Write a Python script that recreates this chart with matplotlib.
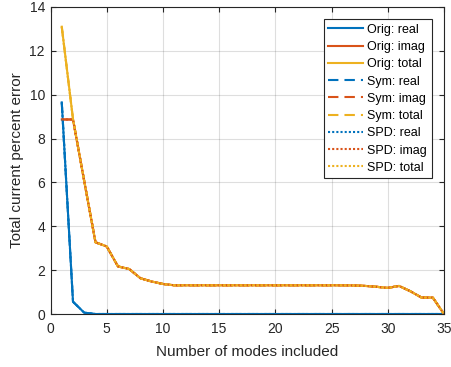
import matplotlib
matplotlib.use("Agg")
import matplotlib.pyplot as plt

plt.rcParams['font.family'] = ['Liberation Sans', 'DejaVu Sans']

modes = list(range(1, 36))
real_err = [9.65, 0.56, 0.06] + [0.0] * 32
imag_err = [8.87, 8.87, 6.06, 3.27, 3.08, 2.17, 2.05, 1.63, 1.48, 1.37,
            1.31, 1.31, 1.31, 1.31, 1.31, 1.31, 1.31, 1.31, 1.31, 1.31,
            1.31, 1.31, 1.31, 1.31, 1.31, 1.31, 1.30, 1.28, 1.24, 1.19,
            1.28, 1.04, 0.75, 0.75, 0.0]
total_err = [13.10, 8.89, 6.06, 3.27, 3.08, 2.17, 2.05, 1.63, 1.48, 1.37,
             1.31, 1.31, 1.31, 1.31, 1.31, 1.31, 1.31, 1.31, 1.31, 1.31,
             1.31, 1.31, 1.31, 1.31, 1.31, 1.31, 1.30, 1.28, 1.24, 1.19,
             1.28, 1.04, 0.75, 0.75, 0.0]

methods = ["Orig", "Sym", "SPD"]
components = ["real", "imag", "total"]
colors = ["#0072BD", "#D95319", "#EDB120"]
styles = ["-", (0, (5, 2.9)), (0, (1, 1))]
series = [real_err, imag_err, total_err]

fig = plt.figure(figsize=(4.51, 3.67), dpi=100)
ax = fig.add_axes([0.112, 0.1444, 0.8725, 0.8366])

for m, ls in zip(methods, styles):
    for comp, col, data in zip(components, colors, series):
        ax.plot(modes, data, color=col, linestyle=ls, linewidth=1.5,
                label=f"{m}: {comp}")

ax.set_xlim(0, 35)
ax.set_ylim(0, 14)
ax.set_xticks(range(0, 36, 5))
ax.set_yticks(range(0, 15, 2))
ax.grid(True, color=(0.15, 0.15, 0.15), alpha=0.15, linewidth=0.8)
ax.set_axisbelow(True)
axcol = (0.15, 0.15, 0.15)
for s in ax.spines.values():
    s.set_color(axcol)
    s.set_linewidth(0.8)
ax.tick_params(direction='in', top=True, right=True, length=3.5,
               labelsize=10, colors=axcol)
ax.tick_params(axis='x', pad=6)
ax.tick_params(axis='y', pad=4)
ax.set_xlabel("Number of modes included", fontsize=11, color=axcol, labelpad=6)
ax.set_ylabel("Total current percent error", fontsize=11, color=axcol, labelpad=4)

leg = ax.legend(loc='upper right', fontsize=9, frameon=True, fancybox=False,
                edgecolor=axcol, framealpha=1, handlelength=2.8,
                handletextpad=0.32, labelspacing=0.42, borderpad=0.35,
                borderaxespad=1.0)
leg.get_frame().set_linewidth(0.8)

fig.savefig("out.png", dpi=100)
